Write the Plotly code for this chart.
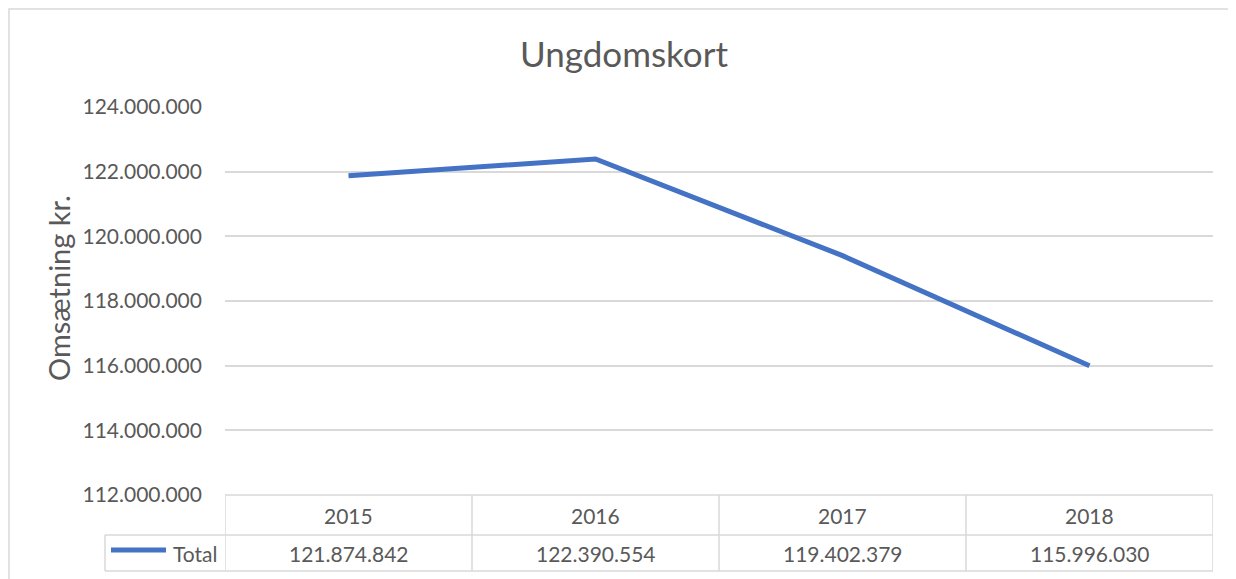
import plotly.graph_objects as go

years = ["2015", "2016", "2017", "2018"]
totals = [121874842, 122390554, 119402379, 115996030]
series_name = "Total"
title = "Ungdomskort"
y_title = "Omsætning kr."
y_ticks = [112000000, 114000000, 116000000, 118000000, 120000000, 122000000, 124000000]

# the page body has an 8px margin, so the figure is drawn 8px in from the corner
OFF = 8
W, H = 1236 - OFF, 579 - OFF
FONT = "Lato"
TXT = "#595959"
GRID = "#D9D9D9"
BLUE = "#4472C4"


def px(x):
    return (x - OFF) / W


def py(y):
    return 1 - (y - OFF) / H


def fmt(v):
    return f"{v:,}".replace(",", ".")


fig = go.Figure()
fig.add_trace(go.Scatter(
    x=list(range(len(years))), y=totals, mode="lines", name=series_name,
    line=dict(color=BLUE, width=5), hoverinfo="skip",
))

plot_l, plot_r, plot_t, plot_b = 225, 1213, 107, 495
row1_b, row2_b = 535, 571

shapes = []
shapes.append(dict(type="rect", xref="paper", yref="paper", x0=px(9), x1=px(1250), y0=py(9), y1=py(600),
                   line=dict(color=GRID, width=1.5), fillcolor="rgba(0,0,0,0)", layer="below"))
for yy in (plot_b, row1_b, row2_b):
    shapes.append(dict(type="line", xref="x", yref="paper", x0=-0.5, x1=len(years) - 0.5,
                       y0=py(yy), y1=py(yy), line=dict(color=GRID, width=1.5)))
for yy in (row1_b, row2_b):
    shapes.append(dict(type="line", xref="paper", yref="paper", x0=px(105), x1=px(plot_l),
                       y0=py(yy), y1=py(yy), line=dict(color=GRID, width=1.5)))
shapes.append(dict(type="line", xref="paper", yref="paper", x0=px(105), x1=px(105),
                   y0=py(row1_b), y1=py(row2_b), line=dict(color=GRID, width=1.5)))
for i in range(len(years) + 1):
    shapes.append(dict(type="line", xref="x", yref="paper", x0=i - 0.5, x1=i - 0.5,
                       y0=py(plot_b), y1=py(row2_b), line=dict(color=GRID, width=1.5)))
shapes.append(dict(type="line", xref="paper", yref="paper", x0=px(111), x1=px(166),
                   y0=py(550), y1=py(550), line=dict(color=BLUE, width=5)))

annotations = []
for i, (yr, v) in enumerate(zip(years, totals)):
    annotations.append(dict(x=i, xref="x", y=py((plot_b + row1_b) / 2), yref="paper", text=yr,
                            showarrow=False, xanchor="center", yanchor="middle",
                            font=dict(family=FONT, size=21, color=TXT)))
    annotations.append(dict(x=i, xref="x", y=py((row1_b + row2_b) / 2), yref="paper", text=fmt(v),
                            showarrow=False, xanchor="center", yanchor="middle",
                            font=dict(family=FONT, size=21, color=TXT)))
annotations.append(dict(x=px(219), xref="paper", y=py((row1_b + row2_b) / 2), yref="paper",
                        text=series_name, showarrow=False, xanchor="right", yanchor="middle",
                        font=dict(family=FONT, size=21, color=TXT)))
annotations.append(dict(x=px(59), xref="paper", y=py(288), yref="paper", text=y_title, textangle=-90,
                        showarrow=False, xanchor="center", yanchor="middle",
                        font=dict(family=FONT, size=29, color=TXT)))
annotations.append(dict(x=px(624), xref="paper", y=py(53), yref="paper", text=title,
                        showarrow=False, xanchor="center", yanchor="middle",
                        font=dict(family=FONT, size=35, color=TXT)))

fig.update_layout(
    width=W, height=H, margin=dict(l=0, r=0, t=0, b=0, pad=0), autosize=False,
    paper_bgcolor="white", plot_bgcolor="white", showlegend=False,
    shapes=shapes, annotations=annotations,
    xaxis=dict(domain=[px(plot_l), px(plot_r)], range=[-0.5, len(years) - 0.5], automargin=False,
               showticklabels=False, showgrid=False, zeroline=False, showline=False, ticks=""),
    yaxis=dict(domain=[py(plot_b), py(plot_t)], range=[y_ticks[0], y_ticks[-1]], automargin=False,
               tickvals=y_ticks, ticktext=[fmt(t) for t in y_ticks],
               showgrid=True, gridcolor=GRID, gridwidth=1.5, zeroline=False, showline=False,
               ticks="", ticklabelstandoff=22,
               tickfont=dict(family=FONT, size=21, color=TXT)),
)

fig.write_html("out.html")
